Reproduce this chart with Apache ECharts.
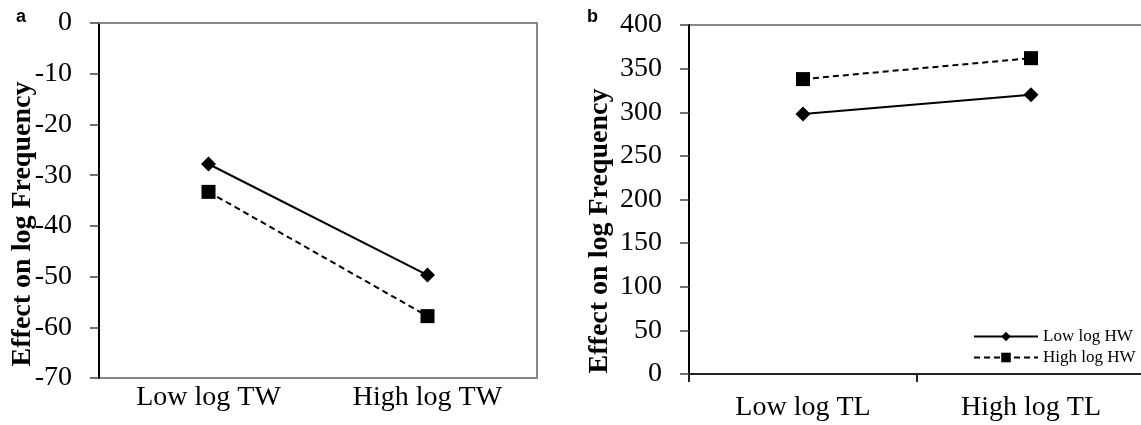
<!DOCTYPE html>
<html>
<head>
<meta charset="utf-8">
<script src="https://cdn.jsdelivr.net/npm/echarts@6/dist/echarts.min.js"></script>
<style>html,body{margin:0;padding:0;background:#fff;overflow:hidden;width:1141px;height:425px;}#c{width:1146px;height:425px;}</style>
</head>
<body>
<div id="c"></div>
<script>
const categoriesA = ['Low log TW', 'High log TW'];
const categoriesB = ['Low log TL', 'High log TL'];
const seriesNames = ['Low log HW', 'High log HW'];
const lowHW_A = [-27.8, -49.7];
const highHW_A = [-33.3, -57.8];
const lowHW_B = [298, 320];
const highHW_B = [338, 362];
const panelLabels = ['a', 'b'];
const yTitle = 'Effect on log Frequency';

const SERIF = '"Liberation Serif", "Times New Roman", serif';
const chart = echarts.init(document.getElementById('c'), null, {renderer: 'canvas'});

function lowStyle(data, xi) {
  return {
    name: seriesNames[0], type: 'line', xAxisIndex: xi, yAxisIndex: xi, data: data,
    symbol: 'diamond', symbolSize: 15, color: '#000',
    itemStyle: {color: '#000'}, lineStyle: {color: '#000', width: 2, type: 'solid'},
    animation: false, z: 3
  };
}
function highStyle(data, xi) {
  return {
    name: seriesNames[1], type: 'line', xAxisIndex: xi, yAxisIndex: xi, data: data,
    symbol: 'rect', symbolSize: 14, color: '#000',
    itemStyle: {color: '#000'}, lineStyle: {color: '#000', width: 2, type: [6, 4]},
    animation: false, z: 3
  };
}

const option = {
  backgroundColor: '#fff',
  animation: false,
  grid: [
    {left: 99, top: 23, width: 438, height: 355, show: true, borderColor: '#888', borderWidth: 2, backgroundColor: 'transparent'},
    {left: 689, top: 25, width: 456, height: 349, show: true, borderColor: '#888', borderWidth: 2, backgroundColor: 'transparent'}
  ],
  xAxis: [
    {type: 'category', gridIndex: 0, data: categoriesA, boundaryGap: true,
     axisLine: {lineStyle: {color: '#888', width: 2}}, axisTick: {show: false},
     axisLabel: {color: '#000', fontFamily: SERIF, fontSize: 28, margin: 6}},
    {type: 'category', gridIndex: 1, data: categoriesB, boundaryGap: true,
     axisLine: {lineStyle: {color: '#222', width: 2}},
     axisTick: {show: true, length: 8, lineStyle: {color: '#222', width: 2}},
     axisLabel: {color: '#000', fontFamily: SERIF, fontSize: 28, margin: 20}}
  ],
  yAxis: [
    {type: 'value', gridIndex: 0, min: -70, max: 0, interval: 10,
     axisLine: {show: true, lineStyle: {color: '#000', width: 2}},
     axisTick: {show: true, length: 9, lineStyle: {color: '#444', width: 1.5}},
     splitLine: {show: false},
     axisLabel: {color: '#000', fontFamily: SERIF, fontSize: 28, margin: 27}},
    {type: 'value', gridIndex: 1, min: 0, max: 400, interval: 50,
     axisLine: {show: true, lineStyle: {color: '#000', width: 2}},
     axisTick: {show: true, length: 9, lineStyle: {color: '#444', width: 1.5}},
     splitLine: {show: false},
     axisLabel: {color: '#000', fontFamily: SERIF, fontSize: 28, margin: 27}}
  ],
  legend: {
    orient: 'vertical', left: 968, top: 323,
    data: seriesNames,
    itemWidth: 64, itemHeight: 12, itemGap: 4,
    textStyle: {color: '#000', fontFamily: SERIF, fontSize: 17},
    selectedMode: false
  },
  graphic: [
    {type: 'text', left: 16, top: 8, style: {text: panelLabels[0], font: 'bold 18px "Liberation Sans", Arial, sans-serif', fill: '#000'}},
    {type: 'text', left: 587, top: 8, style: {text: panelLabels[1], font: 'bold 18px "Liberation Sans", Arial, sans-serif', fill: '#000'}},
    {type: 'text', x: 23, y: 224, rotation: Math.PI / 2,
     style: {text: yTitle, font: 'bold 28px "Liberation Serif", "Times New Roman", serif', fill: '#000', align: 'center', verticalAlign: 'middle'}},
    {type: 'text', x: 600, y: 231, rotation: Math.PI / 2,
     style: {text: yTitle, font: 'bold 28px "Liberation Serif", "Times New Roman", serif', fill: '#000', align: 'center', verticalAlign: 'middle'}}
  ],
  series: [
    lowStyle(lowHW_A, 0), highStyle(highHW_A, 0),
    lowStyle(lowHW_B, 1), highStyle(highHW_B, 1)
  ]
};
chart.setOption(option);
</script>
</body>
</html>
